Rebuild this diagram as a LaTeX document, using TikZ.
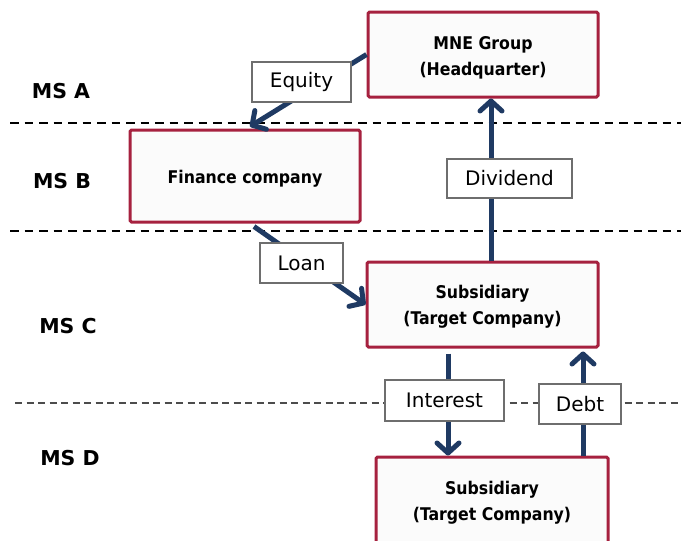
\documentclass[tikz,border=0pt]{standalone}
\usepackage{fontspec}
\setmainfont{DejaVu Sans}
\newfontfamily\boxfont{DejaVu Sans Condensed}
\usetikzlibrary{arrows.meta,calc}
\definecolor{boxred}{HTML}{A6213F}
\definecolor{flownavy}{HTML}{1F3A63}
\definecolor{boxfill}{HTML}{FBFBFB}
\definecolor{tagborder}{HTML}{6E6E6E}
\begin{document}
\begin{tikzpicture}[x=1pt,y=-1pt,
  entity/.style={draw=boxred,line width=3pt,fill=boxfill,rounded corners=1.5pt,
    inner sep=0pt},
  entitytext/.style={inner sep=0pt,align=center,
    font=\boxfont\fontsize{17.5}{26}\selectfont\bfseries},
  tag/.style={draw=tagborder,line width=1.8pt,fill=white,inner sep=0pt,
    font=\fontsize{20}{24}\selectfont},
  flow/.style={draw=flownavy,line width=5pt,
    -{Straight Barb[length=10pt,width=22pt,line cap=round,line join=round]}},
  border/.style={line width=1.8pt,dash pattern=on 8.5pt off 6pt},
  innerborder/.style={line width=1.5pt,dash pattern=on 7pt off 4.5pt},
  state/.style={font=\fontsize{20.5}{24}\selectfont\bfseries}]
\useasboundingbox (0,0) rectangle (681,541);

% member-state borders
\draw[border,black] (10,123) -- (681,123);
\draw[border,black] (10,231) -- (681,231);
\draw[innerborder,black!70] (15,403) -- (681,403);

% member-state labels
\node[state] (msa) at (61,91) {MS A};
\node[state] (msb) at (62,181) {MS B};
\node[state] (msc) at (68,326) {MS C};
\node[state] (msd) at (70,458) {MS D};

% entities
\node[entity,minimum width=230pt,minimum height=85pt] (mne) at (483,54.5) {};
\node[entitytext] (mnetext) at ($(mne.center)+(0,3)$) {MNE Group\\(Headquarter)};
\node[entity,minimum width=230pt,minimum height=92pt] (fin) at (245,176) {};
\node[entitytext] (fintext) at ($(fin.center)+(0,2.5)$) {Finance company};
\node[entity,minimum width=231pt,minimum height=85pt] (subc) at (482.5,304.5) {};
\node[entitytext] (subctext) at ($(subc.center)+(0,2)$) {Subsidiary\\(Target Company)};
\node[entity,minimum width=232pt,minimum height=90pt] (subd) at (492,502) {};
\node[entitytext] (subdtext) at ($(subd.center)+(0,1)$) {Subsidiary\\(Target Company)};

% flows
\coordinate (eqtip) at ($(fin.north)+(5,-2)$);
\draw[flow] (mne.west) -- (eqtip);
\draw[flow] ($(subc.north)+(8.5,0)$) -- ($(mne.south)+(8,0)$);
\draw[flow] ($(fin.south)+(9,3)$) -- (subc.west);
\draw[flow] ($(subc.south)+(-34.5,5)$) -- ($(subd.north)+(-44,0)$);
\draw[flow] ($(subd.north)+(91,0)$) -- ($(subc.south)+(100.5,3)$);

% flow labels
\node[tag,minimum width=99pt,minimum height=40pt] (equity) at (301.5,82) {Equity};
\node[tag,minimum width=125pt,minimum height=39pt] (dividend) at (509.5,178.5) {Dividend};
\node[tag,minimum width=83pt,minimum height=40pt] (loan) at (301.5,263) {Loan};
\node[tag,minimum width=119pt,minimum height=41pt] (interest) at (444.5,400.5) {Interest};
\node[tag,minimum width=82pt,minimum height=40pt] (debt) at (580,404) {Debt};
\end{tikzpicture}
\end{document}
